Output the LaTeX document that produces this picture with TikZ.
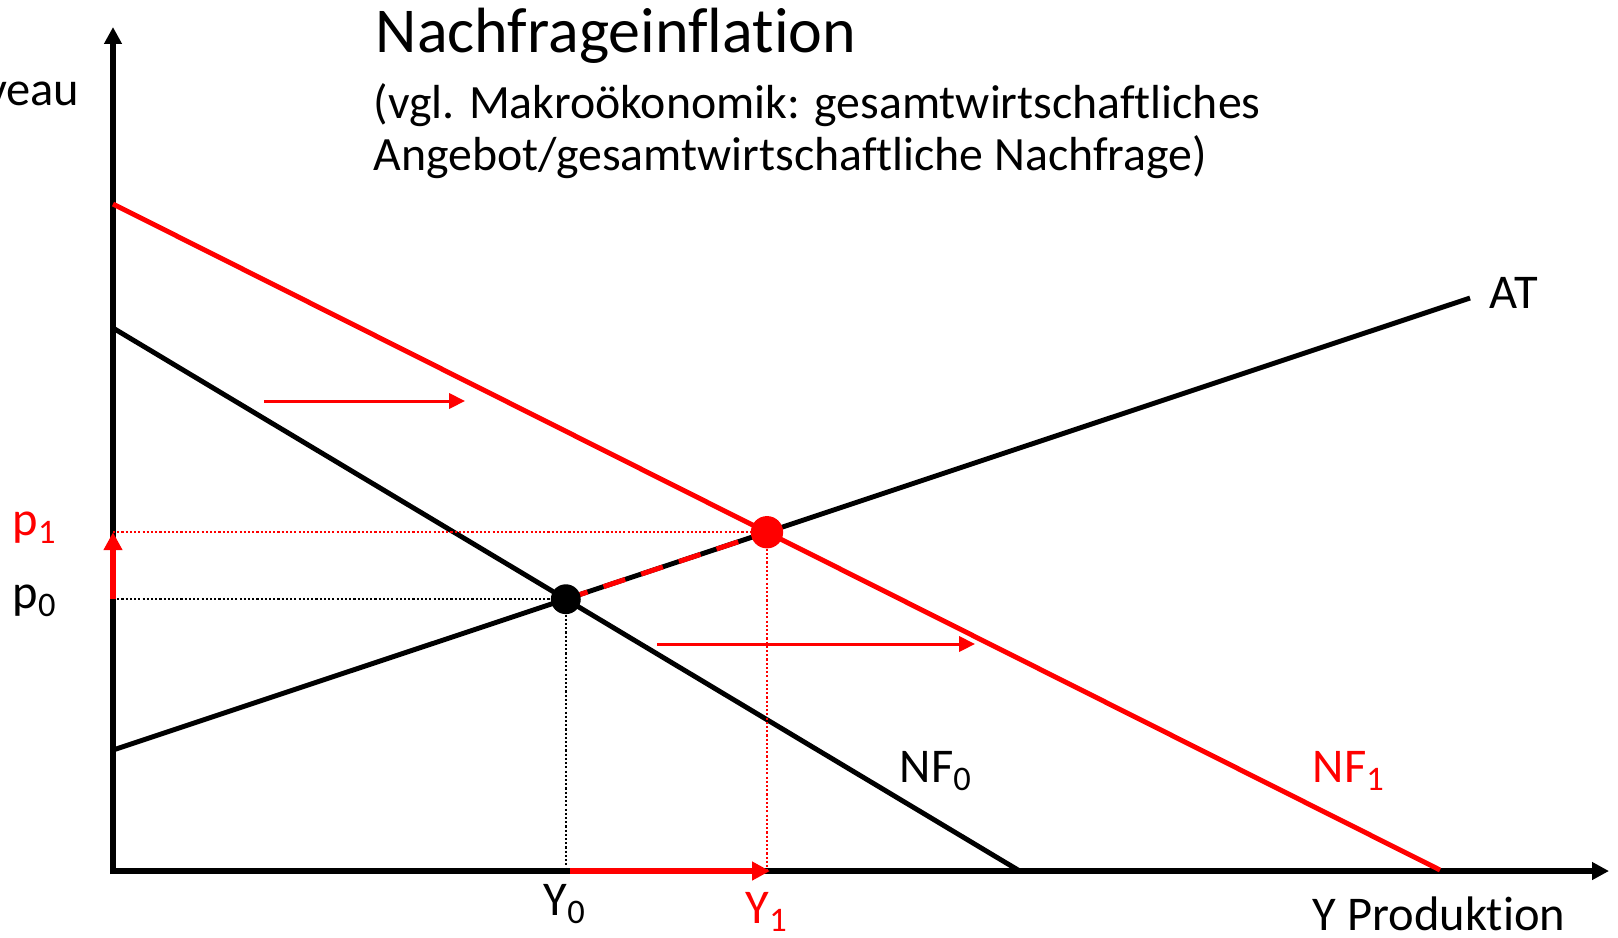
\documentclass[tikz,border=0pt]{standalone}
\usepackage{fontspec}
\setmainfont{Carlito}[Ligatures=NoCommon]
\usepackage{xcolor}
\definecolor{Shift}{HTML}{FF0000}
\definecolor{Ink}{HTML}{000000}
\usepackage{tikz}
\usetikzlibrary{arrows.meta,positioning,calc}
\newcommand{\idx}[1]{\raisebox{-2.3pt}{\fontsize{9.8}{10}\selectfont #1}}

\begin{document}
\begin{tikzpicture}[
  x=0.1mm,y=-0.1mm,
  axis/.style={line width=1.7pt,color=Ink,-{Triangle[length=4.8pt,width=4.8pt]}},
  curve/.style={line width=1.4pt,color=Ink},
  shiftcurve/.style={line width=1.4pt,color=Shift},
  guide/.style={line width=0.6pt,dash pattern=on 0.6pt off 0.6pt},
  move/.style={line width=1.7pt,color=Shift,-{Triangle[length=5.1pt,width=5.1pt]}},
  push/.style={line width=0.85pt,color=Shift,-{Triangle[length=4.5pt,width=4.3pt]}},
  lbl/.style={anchor=base west,inner sep=0,font=\fontsize{13.8}{16}\selectfont},
  dot/.style={circle,inner sep=0,fill=#1,minimum size=8.5pt}
]
\useasboundingbox (0,0) rectangle (1618,937);

% axes
\coordinate (O) at (113,871);
\coordinate (ytop) at (113,27);
\coordinate (xend) at (1609,871);
\draw[axis] ($(O)+(0,3)$) -- (ytop);
\draw[axis] ($(O)+(-3,0)$) -- (xend);

% curves
\coordinate (at0) at (113,750);
\coordinate (at1) at (1470,298);
\coordinate (nf0a) at (113,328);
\coordinate (nf0b) at (1018,870);
\coordinate (nf1a) at (113,204);
\coordinate (nf1b) at (1440,870);
\coordinate (E0) at (intersection of at0--at1 and nf0a--nf0b);
\coordinate (E1) at (intersection of at0--at1 and nf1a--nf1b);

\draw[curve] (at0) -- (at1);
\draw[curve] (nf0a) -- (nf0b);
\draw[shiftcurve] (nf1a) -- (nf1b);

% guides
\draw[guide,color=Ink] (O |- E0) -- (E0) -- (E0 |- O);
\draw[guide,color=Shift] (O |- E1) -- (E1) -- (E1 |- O);
\draw[line width=1.4pt,color=Shift,dash pattern=on 6.5pt off 4.8pt] (E0) -- (E1);

% movements
\draw[move] (O |- E0) -- (O |- E1);
\draw[move] ($(E0 |- O)+(4,0)$) -- ($(E1 |- O)+(3,0)$);
\coordinate (s1a) at (264,401);
\coordinate (s1b) at (465,401);
\coordinate (s2a) at (657,644);
\coordinate (s2b) at (975,644);
\draw[push] (s1a) -- (s1b);
\draw[push] (s2a) -- (s2b);

\node[dot=Ink] (e0) at (E0) {};
\node[dot=Shift,minimum size=9.2pt] (e1) at (E1) {};

% texts
\node[anchor=base west,inner sep=0,font=\fontsize{18.2}{20}\selectfont] (title) at (375,52) {Nachfrageinflation};
\node[anchor=base west,inner sep=0,font=\fontsize{13.6}{15}\selectfont] (sub1) at (373,118) {(vgl. Makroökonomik: gesamtwirtschaftliches};
\node[anchor=base west,inner sep=0,font=\fontsize{13.6}{15}\selectfont] (sub2) at (373,170) {Angebot/gesamtwirtschaftliche Nachfrage)};
\node[lbl,anchor=base east] (price) at (80,105) {Preisniveau};
\node[lbl] (lblAT) at (1489,308) {AT};
\node[lbl] (lblNF0) at (899,782) {NF\idx{0}};
\node[lbl,text=Shift] (lblNF1) at (1312,782) {NF\idx{1}};
\node[lbl,text=Shift] (lblP1) at (12,535) {p\idx{1}};
\node[lbl] (lblP0) at (12,608) {p\idx{0}};
\node[lbl] (lblY0) at (543,915) {Y\idx{0}};
\node[lbl,text=Shift] (lblY1) at (745,923) {Y\idx{1}};
\node[lbl] (lblY) at (1312,930) {Y Produktion};
\end{tikzpicture}
\end{document}
